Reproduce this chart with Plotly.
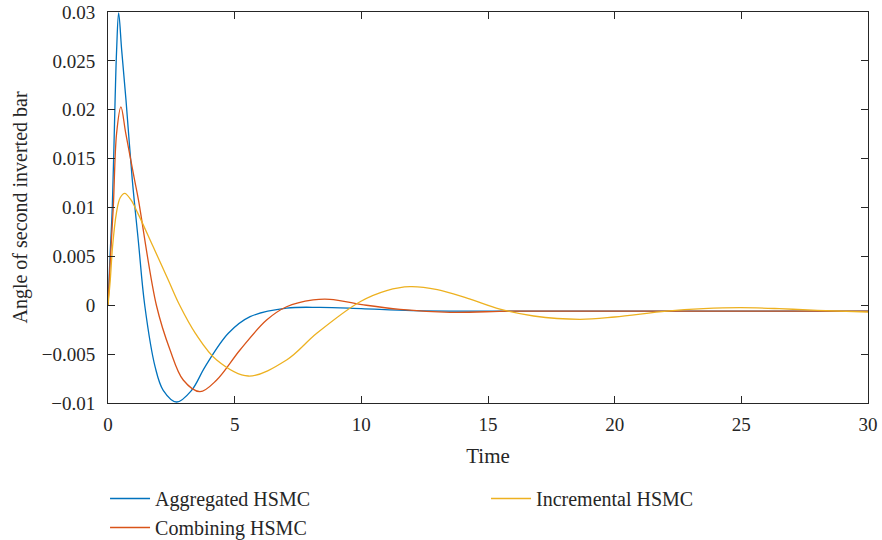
import plotly.graph_objects as go

# Aggregated HSMC (blue)
agg_t = [0, 0.08, 0.17, 0.28, 0.34, 0.42, 0.54, 0.71, 0.96, 1.2, 1.45, 1.86, 2.18, 2.71, 3.30, 3.83, 4.75, 5.61, 7.05, 8.37, 10.0, 12.0, 15.0, 20.0, 25.0, 30.0]
agg_v = [0, 0.0050, 0.0101, 0.0210, 0.0261, 0.0299, 0.0261, 0.0210, 0.0128, 0.0065, 0.0, -0.0063, -0.0087, -0.0099, -0.0087, -0.0063, -0.00287, -0.00117, -0.0003, -0.00022, -0.00035, -0.00055, -0.0006, -0.0006, -0.0006, -0.0006]

# Combining HSMC (red)
comb_t = [0, 0.1, 0.21, 0.34, 0.51, 0.70, 1.05, 1.2, 1.91, 2.45, 2.97, 3.63, 4.29, 5.21, 6.26, 7.05, 8.1, 8.76, 10.2, 11.53, 13.5, 16.0, 20.0, 25.0, 30.0]
comb_v = [0, 0.0050, 0.0101, 0.0176, 0.0203, 0.0176, 0.0128, 0.0108, 0.0, -0.00458, -0.00765, -0.00884, -0.00765, -0.00458, -0.00151, -0.00015, 0.00054, 0.00061, 0.0, -0.00042, -0.00072, -0.0006, -0.0006, -0.0006, -0.0006]

# Incremental HSMC (yellow)
inc_t = [0, 0.09, 0.18, 0.33, 0.48, 0.66, 0.9, 1.18, 1.78, 2.37, 2.83, 3.45, 4.29, 5.54, 7.05, 8.24, 9.95, 11.0, 11.92, 13.0, 14.2, 15.47, 16.8, 18.63, 20.0, 22.05, 23.5, 24.95, 26.5, 28.0, 30.0]
inc_v = [0, 0.0026, 0.0060, 0.0094, 0.0110, 0.01145, 0.0108, 0.0094, 0.0060, 0.00264, 0.0, -0.00287, -0.0056, -0.00724, -0.0056, -0.00287, 0.00036, 0.0015, 0.0019, 0.0016, 0.0007, -0.0004, -0.0011, -0.00144, -0.0012, -0.0006, -0.00035, -0.00025, -0.00035, -0.00052, -0.00069]

names = ["Aggregated HSMC", "Combining HSMC", "Incremental HSMC"]
colors = ["#0072BD", "#D95319", "#EDB120"]

x_ticks = [0, 5, 10, 15, 20, 25, 30]
y_ticks = [0.03, 0.025, 0.02, 0.015, 0.01, 0.005, 0, -0.005, -0.01]
y_ticktext = ["0.03", "0.025", "0.02", "0.015", "0.01", "0.005", "0", "\u22120.005", "\u22120.01"]

FONT = "Liberation Serif"
INK = "#262626"

fig = go.Figure()
fig.add_trace(go.Scatter(x=agg_t, y=agg_v, name=names[0], mode="lines",
                         line=dict(color=colors[0], width=1.3, shape="spline", smoothing=1.0),
                         legend="legend", legendgroup="a"))
fig.add_trace(go.Scatter(x=comb_t, y=comb_v, name=names[1], mode="lines",
                         line=dict(color=colors[1], width=1.3, shape="spline", smoothing=1.0),
                         legend="legend", legendgroup="b"))
fig.add_trace(go.Scatter(x=inc_t, y=inc_v, name=names[2], mode="lines",
                         line=dict(color=colors[2], width=1.3, shape="spline", smoothing=1.0),
                         legend="legend2", legendgroup="c"))

axis_common = dict(
    showline=True, linecolor=INK, linewidth=1, mirror="ticks",
    ticks="inside", ticklen=7, tickcolor=INK, tickwidth=1,
    showgrid=False, zeroline=False, automargin=False,
    ticklabeloverflow="allow",
    tickfont=dict(family=FONT, size=19, color=INK),
)

fig.update_layout(
    width=882, height=540,
    margin=dict(l=108, r=14, t=12, b=137, autoexpand=False),
    paper_bgcolor="white", plot_bgcolor="white",
    font=dict(family=FONT, color=INK),
    xaxis=dict(range=[0, 30], tickvals=x_ticks, ticktext=[str(v) for v in x_ticks],
               ticklabelstandoff=4,
               title=dict(text="Time", font=dict(family=FONT, size=21, color=INK), standoff=14),
               **axis_common),
    yaxis=dict(range=[-0.01, 0.03], tickvals=y_ticks, ticktext=y_ticktext,
               ticklabelstandoff=8,
               title=dict(text="Angle of second inverted bar", font=dict(family=FONT, size=20, color=INK), standoff=8),
               **axis_common),
    legend=dict(x=-0.0039, y=-0.1944, xanchor="left", yanchor="top", orientation="v",
                font=dict(family=FONT, size=20, color=INK), tracegroupgap=0,
                bgcolor="rgba(0,0,0,0)", itemwidth=40),
    legend2=dict(x=0.4974, y=-0.1944, xanchor="left", yanchor="top", orientation="v",
                 font=dict(family=FONT, size=20, color=INK),
                 bgcolor="rgba(0,0,0,0)", itemwidth=40),
    showlegend=True,
)

# remove the browser's default 8 px body margin so the figure fills the window exactly
fig.write_html("out.html", config={"displayModeBar": False},
               post_script="document.body.style.margin='0';")
